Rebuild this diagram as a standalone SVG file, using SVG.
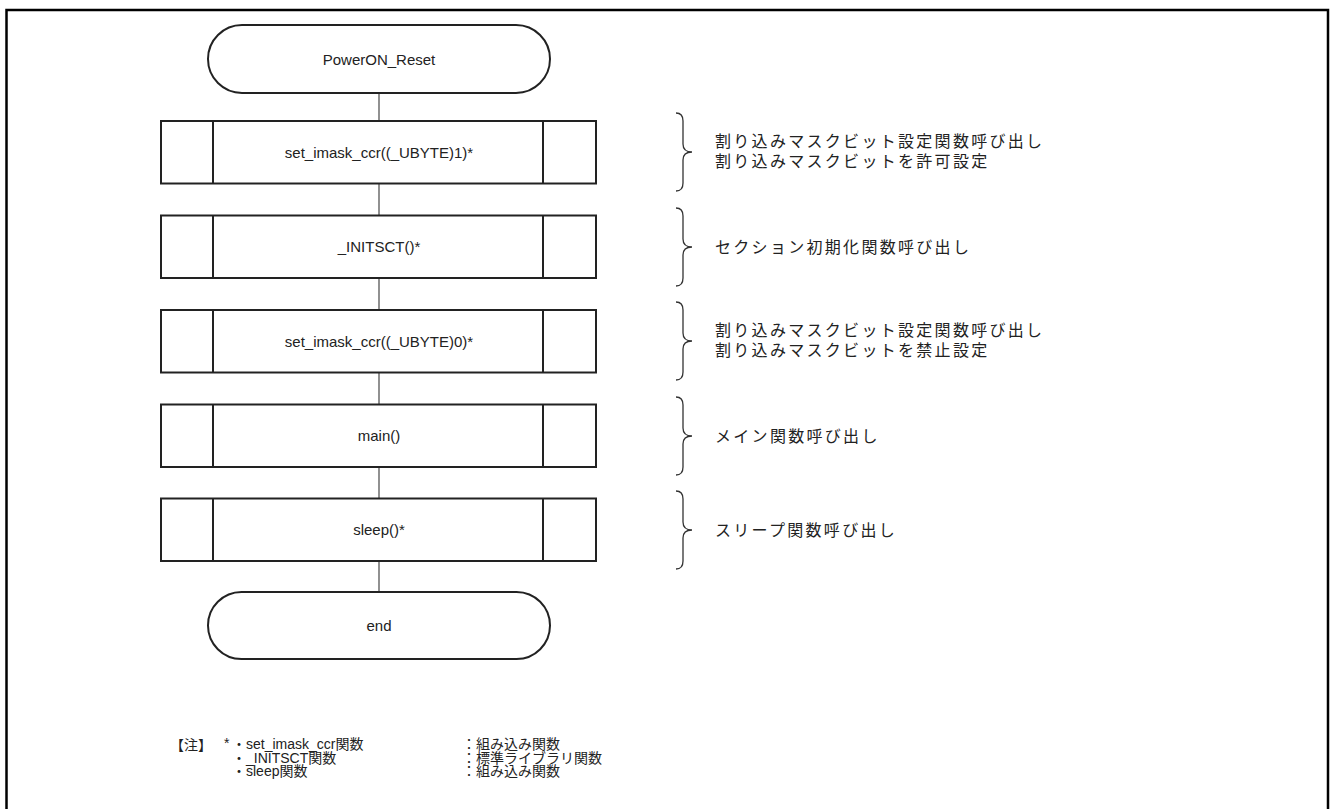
<svg xmlns="http://www.w3.org/2000/svg" width="1330" height="809" viewBox="0 0 1330 809">
<style>
.frame{fill:none;stroke:#000;stroke-width:2.5}
.term{fill:#fff;stroke:#222;stroke-width:2}
.box{fill:#fff;stroke:#222;stroke-width:2}
.conn{stroke:#555;stroke-width:1.3;fill:none}
.brace{fill:none;stroke:#333;stroke-width:1.3}
.lbl{font-family:"Liberation Sans",Arial,sans-serif;font-size:15px;fill:#222;text-anchor:middle}
.jp{font-family:"Liberation Sans","Noto Sans CJK JP",sans-serif;font-size:16px;fill:#222;letter-spacing:2.3px}
.note{font-family:"Liberation Sans","Noto Sans CJK JP",sans-serif;font-size:14px;fill:#222}
</style>
<rect width="1330" height="809" fill="#fff"/>
<path class="frame" d="M6.5 809 V10 H1328 V809"/>
<g id="connectors">
<line class="conn" x1="379" y1="93" x2="379" y2="121"/>
<line class="conn" x1="379" y1="183.5" x2="379" y2="215.5"/>
<line class="conn" x1="379" y1="278" x2="379" y2="310"/>
<line class="conn" x1="379" y1="372.5" x2="379" y2="404.5"/>
<line class="conn" x1="379" y1="467" x2="379" y2="498.5"/>
<line class="conn" x1="379" y1="561" x2="379" y2="592"/>
</g>
<g id="start">
<rect class="term" x="208" y="25" width="342" height="68" rx="34"/>
<text class="lbl" x="379" y="64.5">PowerON_Reset</text>
</g>
<g id="p1">
<rect class="box" x="161" y="121" width="435" height="62.5"/>
<line class="box" x1="213" y1="121" x2="213" y2="183.5"/>
<line class="box" x1="543" y1="121" x2="543" y2="183.5"/>
<text class="lbl" x="379" y="157.5">set_imask_ccr((_UBYTE)1)*</text>
</g>
<g id="p2">
<rect class="box" x="161" y="215.5" width="435" height="62.5"/>
<line class="box" x1="213" y1="215.5" x2="213" y2="278"/>
<line class="box" x1="543" y1="215.5" x2="543" y2="278"/>
<text class="lbl" x="379" y="252">_INITSCT()*</text>
</g>
<g id="p3">
<rect class="box" x="161" y="310" width="435" height="62.5"/>
<line class="box" x1="213" y1="310" x2="213" y2="372.5"/>
<line class="box" x1="543" y1="310" x2="543" y2="372.5"/>
<text class="lbl" x="379" y="346.5">set_imask_ccr((_UBYTE)0)*</text>
</g>
<g id="p4">
<rect class="box" x="161" y="404.5" width="435" height="62.5"/>
<line class="box" x1="213" y1="404.5" x2="213" y2="467"/>
<line class="box" x1="543" y1="404.5" x2="543" y2="467"/>
<text class="lbl" x="379" y="441">main()</text>
</g>
<g id="p5">
<rect class="box" x="161" y="498.5" width="435" height="62.5"/>
<line class="box" x1="213" y1="498.5" x2="213" y2="561"/>
<line class="box" x1="543" y1="498.5" x2="543" y2="561"/>
<text class="lbl" x="379" y="535">sleep()*</text>
</g>
<g id="end">
<rect class="term" x="208" y="592" width="342" height="67" rx="33.5"/>
<text class="lbl" x="379" y="631">end</text>
</g>
<g id="c1">
<path class="brace" d="M676 113 Q683 113 683 121 L683 144 Q683 152 692 152 Q683 152 683 160 L683 183 Q683 191 676 191"/>
<text class="jp" x="715" y="147">割り込みマスクビット設定関数呼び出し</text>
<text class="jp" x="715" y="167">割り込みマスクビットを許可設定</text>
</g>
<g id="c2">
<path class="brace" d="M676 208 Q683 208 683 216 L683 239 Q683 247 692 247 Q683 247 683 255 L683 278 Q683 286 676 286"/>
<text class="jp" x="715" y="253">セクション初期化関数呼び出し</text>
</g>
<g id="c3">
<path class="brace" d="M676 302 Q683 302 683 310 L683 333 Q683 341 692 341 Q683 341 683 349 L683 372 Q683 380 676 380"/>
<text class="jp" x="715" y="336">割り込みマスクビット設定関数呼び出し</text>
<text class="jp" x="715" y="356">割り込みマスクビットを禁止設定</text>
</g>
<g id="c4">
<path class="brace" d="M676 397 Q683 397 683 405 L683 428 Q683 436 692 436 Q683 436 683 444 L683 467 Q683 475 676 475"/>
<text class="jp" x="715" y="442">メイン関数呼び出し</text>
</g>
<g id="c5">
<path class="brace" d="M676 491 Q683 491 683 499 L683 522 Q683 530 692 530 Q683 530 683 538 L683 561 Q683 569 676 569"/>
<text class="jp" x="715" y="536">スリープ関数呼び出し</text>
</g>
<g id="notes">
<text class="note" x="170" y="750" font-size="16">【注】</text>
<text class="note" x="224" y="748" font-size="12" fill="#555">*</text>
<text class="note" x="232" y="749">・set_imask_ccr関数</text>
<text class="note" x="232" y="762.5">・_INITSCT関数</text>
<text class="note" x="232" y="776">・sleep関数</text>
<text class="note" x="462" y="749">：組み込み関数</text>
<text class="note" x="462" y="762.5">：標準ライブラリ関数</text>
<text class="note" x="462" y="776">：組み込み関数</text>
</g>
</svg>
